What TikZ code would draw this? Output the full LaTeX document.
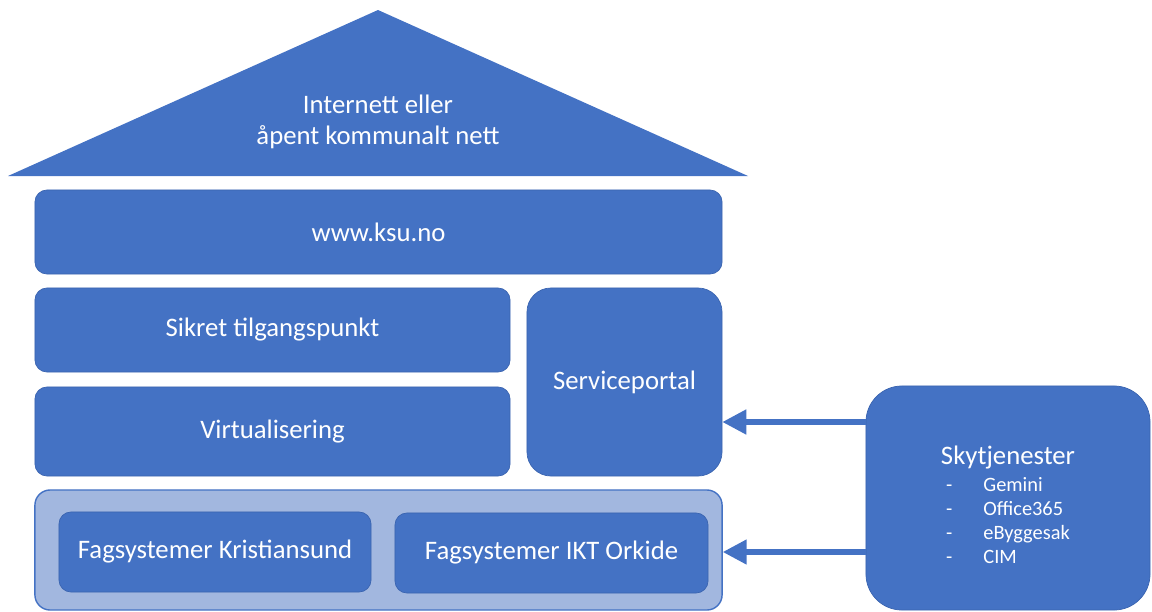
\documentclass[tikz,border=0pt]{standalone}
\usepackage{fontspec}
\setmainfont{Carlito}
\usepackage{tikz}
\usetikzlibrary{arrows.meta}
\definecolor{blaa}{HTML}{4472C4}
\definecolor{blaakant}{HTML}{3A64B0}
\definecolor{lysblaa}{HTML}{A2B7DF}
\tikzset{
	blokk/.style={rectangle, rounded corners=0.3cm, fill=blaa, draw=blaakant, line width=0.5pt,
		text=white, font=\fontsize{19}{22}\selectfont, align=center},
	pil/.style={draw=blaa, line width=3.6pt, -{Triangle[width=17pt,length=17pt]}},
}

\begin{document}
\begin{tikzpicture}[x=0.025cm, y=-0.025cm]
			%%%%% START %%%%%
			\useasboundingbox (0, 0) rectangle (1152, 612);
			
			\fill[blaa] (8, 176) -- (378, 10) -- (748, 176) -- cycle;
			\node[text=white, font=\fontsize{19}{22}\selectfont, align=center] (dak) at (378, 122) {Internett eller\\åpent kommunalt nett};
			
			\node[blokk, minimum width=17.175cm, minimum height=2.1cm] (www) at (378.5, 232) {www.ksu.no};
			\node[blokk, minimum width=11.875cm, minimum height=2.1cm] (sikret) at (272.5, 330) {Sikret tilgangspunkt};
			\node[blokk, minimum width=11.875cm, minimum height=2.225cm] (virt) at (272.5, 431.5) {Virtualisering};
			\node[blokk, rounded corners=0.6cm, minimum width=4.875cm, minimum height=4.7cm] (service) at (624.5, 382) {Serviceportal};
			
			\node[blokk, fill=lysblaa, draw=blaa, line width=1pt, rounded corners=0.38cm, minimum width=17.175cm, minimum height=3cm] (fag) at (378.5, 550) {};
			\node[blokk, minimum width=7.8cm, minimum height=2cm] (kristiansund) at (215, 552) {Fagsystemer Kristiansund};
			\node[blokk, minimum width=7.825cm, minimum height=2cm] (orkide) at (551.5, 553) {Fagsystemer IKT Orkide};
			
			\node[blokk, rounded corners=0.9cm, minimum width=7.1cm, minimum height=5.6cm] (sky) at (1008, 498) {%
				\rule{0pt}{28pt}Skytjenester\\[3pt]
				{\fontsize{14.5}{17}\selectfont\begin{tabular}{@{}l@{\hspace{22pt}}l@{}}
				- & Gemini\\
				- & Office365\\
				- & eByggesak\\
				- & CIM
				\end{tabular}}};
			
			\draw[pil] (sky.west |- 0, 422) -- (service.east |- 0, 422);
			\draw[pil] (sky.west |- 0, 552) -- (fag.east |- 0, 552);
			
			%%%%% END %%%%%
\end{tikzpicture}
\end{document}
